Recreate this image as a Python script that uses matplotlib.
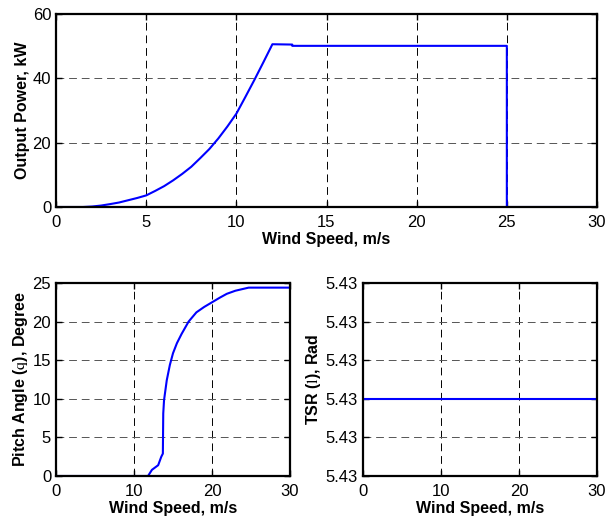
import numpy as np
import matplotlib.pyplot as plt
from matplotlib.ticker import FormatStrFormatter

plt.rcParams['font.family'] = ['Liberation Sans', 'DejaVu Sans']
plt.rcParams['mathtext.fontset'] = 'stix'

# output power vs wind speed (kW)
wind_p = [0, 1.5, 2.0, 2.5, 3.0, 3.5, 4.0, 4.5, 5.0, 5.5, 6.0, 6.5, 7.0, 7.5, 8.0, 8.5,
          9.0, 9.5, 10.0, 10.5, 11.0, 11.5, 12.0, 13.1, 13.1, 25.0, 25.0, 30.0]
power = [0, 0, 0.15, 0.45, 0.9, 1.4, 2.1, 2.8, 3.6, 5.0, 6.5, 8.3, 10.3, 12.5, 15.2, 18.0,
         21.3, 25.0, 29.0, 34.2, 39.5, 45.0, 50.6, 50.5, 50.1, 50.1, 0, 0]

# pitch angle vs wind speed (degree)
wind_b = [0, 11.8, 12.3, 13.1, 13.5, 13.7, 13.75, 13.85, 13.97, 14.2, 14.6, 15.0, 15.5,
          16.1, 17.0, 18.0, 19.0, 20.0, 21.0, 21.9, 23.0, 24.7, 30.0]
pitch = [0, 0, 0.8, 1.4, 2.5, 2.9, 8.1, 9.8, 10.7, 12.4, 14.4, 15.9, 17.2,
         18.4, 20.0, 21.2, 21.9, 22.5, 23.1, 23.6, 24.0, 24.4, 24.4]

# tip speed ratio, constant
wind_t = [0, 30]
tsr = [5.4285, 5.4285]

fig = plt.figure(figsize=(6.07, 5.19), dpi=100)
ax1 = fig.add_axes([56/607, 1-207/519, 541/607, 193/519])
ax2 = fig.add_axes([56/607, 1-476/519, 234/607, 193/519])
ax3 = fig.add_axes([363/607, 1-476/519, 234/607, 193/519])

ax1.plot(wind_p, power, color='#0000ff', lw=1.5)
ax1.set_xlim(0, 30)
ax1.set_ylim(0, 60)
ax1.set_xticks([0, 5, 10, 15, 20, 25, 30])
ax1.set_yticks([0, 20, 40, 60])
ax1.set_ylabel('Output Power, kW')

ax2.plot(wind_b, pitch, color='#0000ff', lw=1.5)
ax2.set_xlim(0, 30)
ax2.set_ylim(0, 25)
ax2.set_xticks([0, 10, 20, 30])
ax2.set_yticks([0, 5, 10, 15, 20, 25])
ax2.set_ylabel(r'Pitch Angle ($\mathrm{q}$), Degree')

ax3.plot(wind_t, tsr, color='#0000ff', lw=1.5)
ax3.set_xlim(0, 30)
ax3.set_ylim(5.4283, 5.4288)
ax3.set_xticks([0, 10, 20, 30])
ax3.set_yticks(np.linspace(5.4283, 5.4288, 6))
ax3.yaxis.set_major_formatter(FormatStrFormatter('%.2f'))
ax3.set_ylabel(r'TSR ($\mathrm{l}$), Rad')

for ax in (ax1, ax2, ax3):
    ax.set_axisbelow(True)
    ax.set_xlabel('Wind Speed, m/s', fontsize=11.5, fontweight='bold', labelpad=2)
    ax.yaxis.label.set_fontweight('bold')
    ax.yaxis.label.set_fontsize(11.5)
    ax.yaxis.labelpad = 2
    ax.tick_params(direction='in', top=True, right=True, labelsize=12, length=4, width=1)
    ax.tick_params(axis='x', pad=5.5)
    ax.tick_params(axis='y', pad=3.5)
    for s in ax.spines.values():
        s.set_linewidth(1.6)
    ax.xaxis.grid(True, color='black', linestyle=(0, (8, 5)), lw=0.7)
    ax.yaxis.grid(True, color='#555555', linestyle=(0, (8, 5)), lw=0.7)

fig.savefig('out.png', dpi=100)
